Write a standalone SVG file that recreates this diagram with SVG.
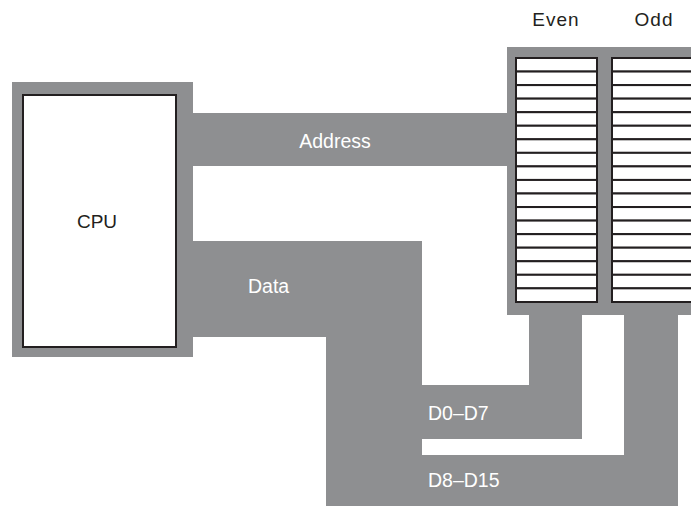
<svg xmlns="http://www.w3.org/2000/svg" width="691" height="506" viewBox="0 0 691 506">
<style>
.bus{fill:#8e8f91;}
.box{fill:#ffffff;stroke:#231f20;stroke-width:2;}
.row{fill:#ffffff;stroke:#231f20;stroke-width:2;}
.lbl{font-family:"Liberation Sans",Arial,sans-serif;font-size:19px;fill:#231f20;}
.wl{font-family:"Liberation Sans",Arial,sans-serif;font-size:19.5px;fill:#ffffff;}
</style>
<defs>
<g id="col">
<rect class="row" x="0" y="0" width="81" height="13.55"/>
<rect class="row" x="0" y="13.55" width="81" height="13.55"/>
<rect class="row" x="0" y="27.1" width="81" height="13.55"/>
<rect class="row" x="0" y="40.65" width="81" height="13.55"/>
<rect class="row" x="0" y="54.2" width="81" height="13.55"/>
<rect class="row" x="0" y="67.75" width="81" height="13.55"/>
<rect class="row" x="0" y="81.3" width="81" height="13.55"/>
<rect class="row" x="0" y="94.85" width="81" height="13.55"/>
<rect class="row" x="0" y="108.4" width="81" height="13.55"/>
<rect class="row" x="0" y="121.95" width="81" height="13.55"/>
<rect class="row" x="0" y="135.5" width="81" height="13.55"/>
<rect class="row" x="0" y="149.05" width="81" height="13.55"/>
<rect class="row" x="0" y="162.6" width="81" height="13.55"/>
<rect class="row" x="0" y="176.15" width="81" height="13.55"/>
<rect class="row" x="0" y="189.7" width="81" height="13.55"/>
<rect class="row" x="0" y="203.25" width="81" height="13.55"/>
<rect class="row" x="0" y="216.8" width="81" height="13.55"/>
<rect class="row" x="0" y="230.35" width="81" height="13.65"/>
</g>
</defs>
<rect width="691" height="506" fill="#ffffff"/>
<g id="connectors">
<rect id="address-bus" class="bus" x="192" y="113" width="316" height="53"/>
<path id="data-bus" class="bus" d="M192,241 H422 V385 H529 V314 H582 V439 H422 V455 H624 V314 H678 V506 H326 V337 H192 Z"/>
<text class="wl" x="335" y="148" text-anchor="middle">Address</text>
<text class="wl" x="248" y="293">Data</text>
<text class="wl" x="428" y="420">D0–D7</text>
<text class="wl" x="428" y="487">D8–D15</text>
</g>
<g id="cpu">
<rect class="bus" x="12" y="82" width="181" height="275"/>
<rect class="box" x="23" y="95" width="153" height="252"/>
<text class="lbl" x="97" y="228" text-anchor="middle">CPU</text>
</g>
<g id="memory">
<rect class="bus" x="507" y="47" width="190" height="268"/>
<g id="even">
<use href="#col" x="516" y="58"/>
<text class="lbl" x="556" y="26" text-anchor="middle" letter-spacing="1">Even</text>
</g>
<g id="odd">
<use href="#col" x="612" y="58"/>
<text class="lbl" x="654" y="26" text-anchor="middle" letter-spacing="1">Odd</text>
</g>
</g>
</svg>
